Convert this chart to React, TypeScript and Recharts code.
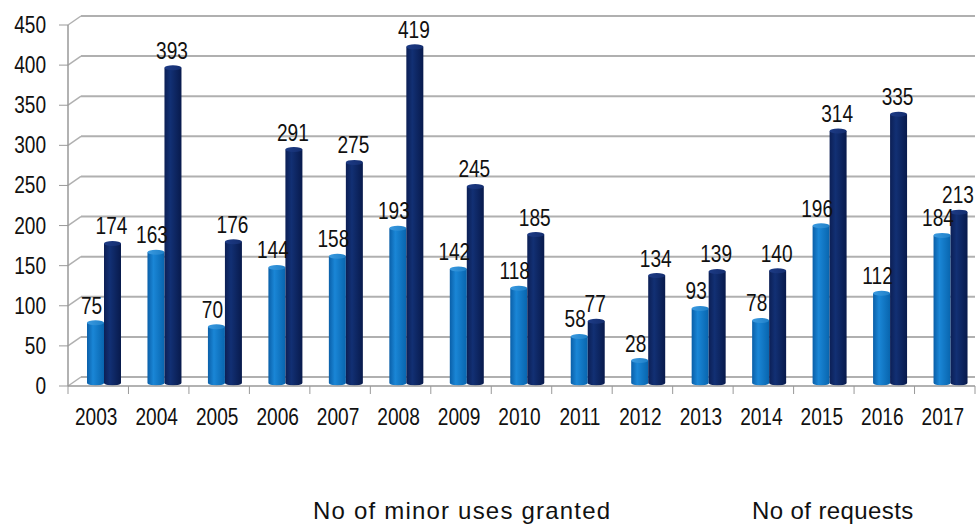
import React from 'react';
import { BarChart, Bar, XAxis, YAxis, CartesianGrid, LabelList } from 'recharts';

const years = ['2003', '2004', '2005', '2006', '2007', '2008', '2009', '2010', '2011', '2012', '2013', '2014', '2015', '2016', '2017'];
const minorUsesGranted = [75, 163, 70, 144, 158, 193, 142, 118, 58, 28, 93, 78, 196, 112, 184];
const requests = [174, 393, 176, 291, 275, 419, 245, 185, 77, 134, 139, 140, 314, 335, 213];
const yTicks = [0, 50, 100, 150, 200, 250, 300, 350, 400, 450];
const legendLabels = ['No of minor uses granted', 'No of requests'];

const data = years.map((year, i) => ({
  year,
  granted: minorUsesGranted[i],
  requests: requests[i],
}));

const FONT = '"Liberation Sans", Arial, sans-serif';
const SHIFT_X = 6;
const SHIFT_Y = -3;
const BAND = (980 - 68 - 5) / years.length;

// condensed-looking text (no narrow font installed, so squeeze horizontally)
function NarrowText({ x, y, value, anchor = 'middle' }: any) {
  return (
    <text
      transform={`translate(${x},${y}) scale(0.83,1)`}
      textAnchor={anchor}
      fontSize={23}
      fontFamily={FONT}
      fill="#111"
    >
      {value}
    </text>
  );
}

// cylinder-ish bar, nudged a little to mimic the 3D depth
function Cylinder(props: any) {
  const { x, y, width, height, gradId } = props;
  if (!height || height <= 0) return null;
  const cx = x + SHIFT_X;
  const top = y + SHIFT_Y;
  const ry = 2.5;
  const w = width;
  return (
    <g>
      <path
        d={`M${cx},${top} L${cx},${top + height} A${w / 2},${ry} 0 0 0 ${cx + w},${top + height} L${cx + w},${top} Z`}
        fill={`url(#${gradId})`}
      />
      <ellipse cx={cx + w / 2} cy={top} rx={w / 2} ry={ry} fill={`url(#${gradId}Top)`} />
    </g>
  );
}

function GridLine(props: any) {
  const { x1, x2, y1 } = props;
  return (
    <g>
      <line x1={x1} y1={y1} x2={x1 + 13} y2={y1 - 9} stroke="#b0b0b0" strokeWidth={1.5} />
      <line x1={x1 + 13} y1={y1 - 9} x2={x2} y2={y1 - 9} stroke="#b0b0b0" strokeWidth={2} />
    </g>
  );
}

function YearTick(props: any) {
  const { x, y, payload, index } = props;
  return (
    <g>
      <line x1={x - BAND / 2} y1={y - 8} x2={x - BAND / 2} y2={y} stroke="#999" />
      {index === years.length - 1 && (
        <line x1={x + BAND / 2} y1={y - 8} x2={x + BAND / 2} y2={y} stroke="#999" />
      )}
      <NarrowText x={x - 2} y={y + 31} value={payload.value} />
    </g>
  );
}

function ValueTick(props: any) {
  const { x, y, payload } = props;
  return <NarrowText x={x - 1} y={y + 8} value={payload.value} anchor="end" />;
}

function makeLabel(dx: number) {
  return (p: any) => <NarrowText x={p.x + p.width / 2 + dx} y={p.y - 12} value={p.value} />;
}

export default function App() {
  return (
    <div style={{ position: 'absolute', left: 0, top: 0, width: 980, height: 526, background: '#fff', fontFamily: FONT }}>
      <BarChart
        width={980}
        height={526}
        data={data}
        margin={{ top: 25, right: 5, bottom: 100, left: 0 }}
        barGap={0}
        barSize={17}
      >
        <defs>
          <linearGradient id="lightGrad" x1="0" y1="0" x2="1" y2="0">
            <stop offset="0%" stopColor="#0a5fa8" />
            <stop offset="35%" stopColor="#1a86d6" />
            <stop offset="100%" stopColor="#0865ae" />
          </linearGradient>
          <linearGradient id="lightGradTop" x1="0" y1="0" x2="1" y2="0">
            <stop offset="0%" stopColor="#3a9ae0" />
            <stop offset="100%" stopColor="#1f80c8" />
          </linearGradient>
          <linearGradient id="darkGrad" x1="0" y1="0" x2="1" y2="0">
            <stop offset="0%" stopColor="#0c1f55" />
            <stop offset="35%" stopColor="#123074" />
            <stop offset="100%" stopColor="#081a4c" />
          </linearGradient>
          <linearGradient id="darkGradTop" x1="0" y1="0" x2="1" y2="0">
            <stop offset="0%" stopColor="#1d3b85" />
            <stop offset="100%" stopColor="#142e70" />
          </linearGradient>
        </defs>
        <CartesianGrid vertical={false} horizontal={(p: any) => <GridLine key={p.key} {...p} />} />
        <XAxis
          dataKey="year"
          tick={<YearTick />}
          tickLine={false}
          axisLine={{ stroke: '#999', strokeWidth: 1.5 }}
          height={40}
          interval={0}
        />
        <YAxis
          domain={[0, 450]}
          ticks={yTicks}
          width={68}
          tickSize={9}
          tickMargin={12}
          axisLine={{ stroke: '#999', strokeWidth: 1.5 }}
          tickLine={{ stroke: '#999' }}
          tick={<ValueTick />}
        />
        <Bar dataKey="granted" isAnimationActive={false} shape={<Cylinder gradId="lightGrad" />}>
          <LabelList dataKey="granted" content={makeLabel(SHIFT_X - 4)} />
        </Bar>
        <Bar dataKey="requests" isAnimationActive={false} shape={<Cylinder gradId="darkGrad" />}>
          <LabelList dataKey="requests" content={makeLabel(SHIFT_X - 1)} />
        </Bar>
      </BarChart>
      <div style={{ position: 'absolute', top: 497, left: 313, fontSize: 24, letterSpacing: 1.2, color: '#111', whiteSpace: 'nowrap' }}>
        {legendLabels[0]}
      </div>
      <div style={{ position: 'absolute', top: 497, left: 752, fontSize: 24, letterSpacing: 0.4, color: '#111', whiteSpace: 'nowrap' }}>
        {legendLabels[1]}
      </div>
    </div>
  );
}
